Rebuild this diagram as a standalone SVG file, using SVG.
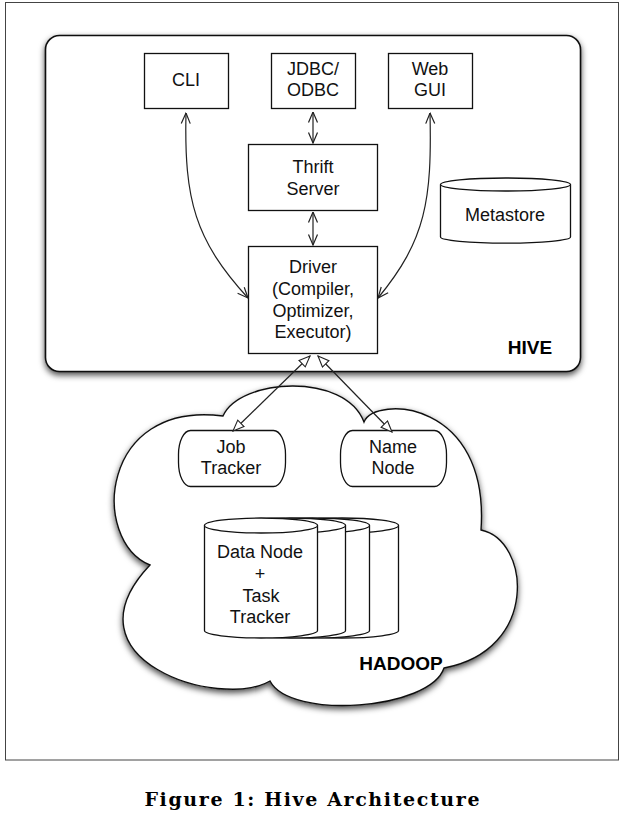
<svg xmlns="http://www.w3.org/2000/svg" width="624" height="819" viewBox="0 0 624 819">
<style>
.box{fill:#fff;stroke:#111;stroke-width:1.3}
.t{font-family:"Liberation Sans",Arial,sans-serif;font-size:18px;fill:#111;text-anchor:middle}
.b{font-family:"Liberation Sans",Arial,sans-serif;font-size:19px;font-weight:bold;fill:#000;text-anchor:middle}
.c{fill:none;stroke:#222;stroke-width:1.2}
.cv{marker-start:url(#v);marker-end:url(#v)}
.ct{marker-start:url(#tri);marker-end:url(#tri)}
</style>
<defs>
<filter id="sh" x="-10%" y="-10%" width="125%" height="130%">
<feDropShadow dx="0" dy="3" stdDeviation="3" flood-color="#000" flood-opacity="0.7"/>
</filter>
<marker id="v" viewBox="0 0 12 12" refX="11.5" refY="6" markerWidth="12" markerHeight="12" markerUnits="userSpaceOnUse" orient="auto-start-reverse">
<path d="M1,1.5 L11.5,6 L1,10.5" fill="none" stroke="#222" stroke-width="1.2"/>
</marker>
<marker id="tri" viewBox="0 0 13 11" refX="12" refY="5.5" markerWidth="13" markerHeight="11" markerUnits="userSpaceOnUse" orient="auto-start-reverse">
<path d="M1,1 L12,5.5 L1,10 Z" fill="#fff" stroke="#222" stroke-width="1.1"/>
</marker>
</defs>
<rect width="624" height="819" fill="#fff"/>
<rect x="5.5" y="2.5" width="613" height="757.5" fill="none" stroke="#444" stroke-width="1"/>

<g id="hive">
<rect x="45.5" y="35.5" width="535" height="336" rx="14" fill="#fff" stroke="#111" stroke-width="1.6" filter="url(#sh)"/>
<text class="b" x="530" y="354">HIVE</text>
</g>

<g id="hadoop">
<path d="M223,416 C240,378 345,372 364,422 C375,395 490,400 481,530 C530,540 540,650 444,668 C430,710 290,720 270,681 C220,710 60,660 150,565 C90,540 100,400 223,416 Z" fill="#fff" stroke="#111" stroke-width="1.4" filter="url(#sh)"/>
<text class="b" x="401" y="670">HADOOP</text>
</g>

<g id="cli">
<rect class="box" x="144.5" y="53.5" width="84" height="55"/>
<text class="t" x="186" y="86">CLI</text>
</g>
<g id="jdbc">
<rect class="box" x="271.5" y="53.5" width="84" height="55"/>
<text class="t" x="313" y="75">JDBC/</text>
<text class="t" x="313" y="96">ODBC</text>
</g>
<g id="webgui">
<rect class="box" x="388.5" y="53.5" width="84" height="55"/>
<text class="t" x="430" y="75">Web</text>
<text class="t" x="430" y="96">GUI</text>
</g>
<g id="thrift">
<rect class="box" x="248.5" y="144.5" width="129" height="66"/>
<text class="t" x="313" y="173">Thrift</text>
<text class="t" x="313" y="195">Server</text>
</g>
<g id="driver">
<rect class="box" x="248.5" y="246.5" width="129" height="107"/>
<text class="t" x="313" y="273">Driver</text>
<text class="t" x="313" y="295">(Compiler,</text>
<text class="t" x="313" y="317">Optimizer,</text>
<text class="t" x="313" y="338">Executor)</text>
</g>
<g id="metastore">
<path class="box" d="M440.5,184.5 L440.5,237 A64.5,6 0 0 0 570.5,237 L570.5,184.5"/>
<ellipse class="box" cx="505.5" cy="184.5" rx="65" ry="6.5"/>
<text class="t" x="505" y="221">Metastore</text>
</g>

<g id="jobtracker">
<rect class="box" x="178.5" y="430.5" width="107" height="56" rx="12" ry="24"/>
<text class="t" x="231" y="453">Job</text>
<text class="t" x="231" y="474">Tracker</text>
</g>
<g id="namenode">
<rect class="box" x="340.5" y="430.5" width="106" height="56" rx="12" ry="24"/>
<text class="t" x="393" y="453">Name</text>
<text class="t" x="393" y="474">Node</text>
</g>

<g id="datanodes">
<g>
<path class="box" d="M285.5,525.5 L285.5,630.5 A56.5,7.5 0 0 0 398.5,630.5 L398.5,525.5"/>
<ellipse class="box" cx="342" cy="525.5" rx="56.5" ry="7.5"/>
</g>
<g>
<path class="box" d="M256.5,525.5 L256.5,630.5 A56.5,7.5 0 0 0 369.5,630.5 L369.5,525.5"/>
<ellipse class="box" cx="313" cy="525.5" rx="56.5" ry="7.5"/>
</g>
<g>
<path class="box" d="M232.5,525.5 L232.5,630.5 A56.5,7.5 0 0 0 345.5,630.5 L345.5,525.5"/>
<ellipse class="box" cx="289" cy="525.5" rx="56.5" ry="7.5"/>
</g>
<g>
<path class="box" d="M204.5,525.5 L204.5,630.5 A56.5,7.5 0 0 0 317.5,630.5 L317.5,525.5"/>
<ellipse class="box" cx="261" cy="525.5" rx="56.5" ry="7.5"/>
</g>
<text class="t" x="260" y="558">Data Node</text>
<text class="t" x="260" y="580">+</text>
<text class="t" x="261" y="602">Task</text>
<text class="t" x="260" y="623">Tracker</text>
</g>

<g id="connectors">
<path class="c cv" d="M186,113 C184,200 195,240 248,298"/>
<path class="c cv" d="M430,113 C432,200 426,240 378,298"/>
<path class="c cv" d="M313,112 L313,143"/>
<path class="c cv" d="M313,212 L313,245"/>
<path class="c ct" d="M310,356 L233,431"/>
<path class="c ct" d="M318,356 L392,432"/>
</g>

<text x="312" y="806" font-family="'DejaVu Serif','Liberation Serif',serif" font-size="19" font-weight="bold" text-anchor="middle" textLength="335" lengthAdjust="spacing" fill="#000">Figure 1: Hive Architecture</text>
</svg>
